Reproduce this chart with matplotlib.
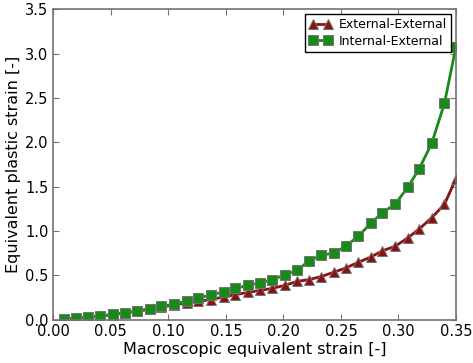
import matplotlib
matplotlib.use("Agg")
import matplotlib.pyplot as plt

strain = [0.009, 0.020, 0.030, 0.041, 0.052, 0.062, 0.073, 0.084, 0.094, 0.105,
          0.116, 0.126, 0.137, 0.148, 0.158, 0.169, 0.180, 0.190, 0.201, 0.212,
          0.222, 0.233, 0.244, 0.254, 0.265, 0.276, 0.286, 0.297, 0.308, 0.318,
          0.329, 0.340, 0.350]
ext_ext = [0.004, 0.012, 0.025, 0.038, 0.055, 0.073, 0.094, 0.115, 0.140, 0.165,
           0.190, 0.205, 0.225, 0.255, 0.280, 0.305, 0.330, 0.350, 0.385, 0.430,
           0.450, 0.485, 0.535, 0.580, 0.645, 0.705, 0.775, 0.825, 0.920, 1.020,
           1.150, 1.300, 1.590]
int_ext = [0.005, 0.013, 0.028, 0.040, 0.058, 0.077, 0.100, 0.120, 0.149, 0.175,
           0.210, 0.240, 0.280, 0.310, 0.350, 0.385, 0.415, 0.450, 0.500, 0.555,
           0.660, 0.725, 0.750, 0.825, 0.940, 1.085, 1.205, 1.300, 1.490, 1.700,
           1.990, 2.440, 3.080]
labels = ["External-External", "Internal-External"]
xticks = [0.00, 0.05, 0.10, 0.15, 0.20, 0.25, 0.30, 0.35]
yticks = [0.0, 0.5, 1.0, 1.5, 2.0, 2.5, 3.0, 3.5]

fig = plt.figure(figsize=(4.73, 3.63), dpi=100)
ax = fig.add_axes([0.1127, 0.1198, 0.8513, 0.8546])

ax.plot(strain, ext_ext, color="#8a1212", lw=2, marker="^", ms=7,
        mec="0.45", mew=0.7, label=labels[0], clip_on=True)
ax.plot(strain, int_ext, color="#178a17", lw=2, marker="s", ms=6.5,
        mec="0.45", mew=0.7, label=labels[1], clip_on=True)

ax.set_xlim(0, 0.35)
ax.set_ylim(0, 3.5)
ax.set_xticks(xticks)
ax.set_yticks(yticks)
ax.set_xticklabels([f"{t:.2f}" for t in xticks])
ax.set_yticklabels([f"{t:.1f}" for t in yticks])
ax.tick_params(direction="in", top=True, right=True, length=4, width=0.8,
               color="0.45", labelsize=10.5)
for s in ax.spines.values():
    s.set_color("0.45")
    s.set_linewidth(1.2)
ax.set_xlabel("Macroscopic equivalent strain [-]", fontsize=11.5, labelpad=2)
ax.set_ylabel("Equivalent plastic strain [-]", fontsize=11.5, labelpad=3)

leg = ax.legend(loc="upper right", fontsize=9, numpoints=2, fancybox=False,
                framealpha=1, borderpad=0.3, labelspacing=0.3, handlelength=1.8,
                handletextpad=0.6, borderaxespad=0.4)
leg.get_frame().set_edgecolor("black")

fig.savefig("out.png", dpi=100)
